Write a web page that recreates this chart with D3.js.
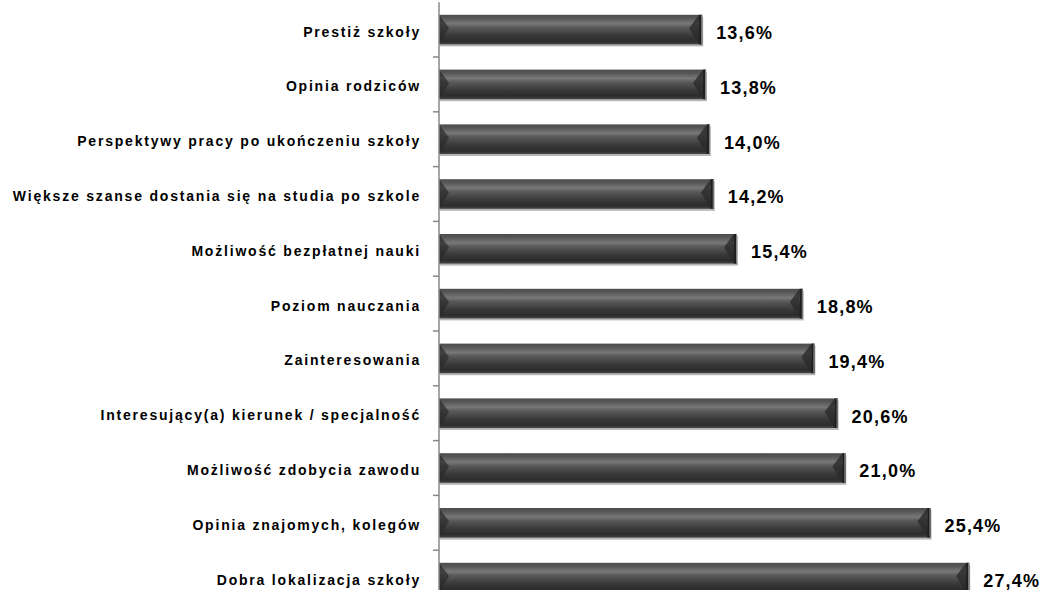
<!DOCTYPE html>
<html>
<head>
<meta charset="utf-8">
<script src="https://cdn.jsdelivr.net/npm/d3@7"></script>
<style>
  body { margin: 0; background: #fff; }
  svg { display: block; }
</style>
</head>
<body>
<div id="chart"></div>
<script>
var w = 1045;
var h = 590;

var categories = [
  "Prestiż szkoły",
  "Opinia rodziców",
  "Perspektywy pracy po ukończeniu szkoły",
  "Większe szanse dostania się na studia po szkole",
  "Możliwość bezpłatnej nauki",
  "Poziom nauczania",
  "Zainteresowania",
  "Interesujący(a) kierunek / specjalność",
  "Możliwość zdobycia zawodu",
  "Opinia znajomych, kolegów",
  "Dobra lokalizacja szkoły"
];
var values = [13.6, 13.8, 14.0, 14.2, 15.4, 18.8, 19.4, 20.6, 21.0, 25.4, 27.4];

var axisX = 439;

var x = d3.scaleLinear().domain([0, 10]).range([axisX, axisX + 193.5]);
var y = d3.scaleBand().domain(categories).range([2.2, 605]).paddingInner(0.46).paddingOuter(0.23);

var svg = d3.select("#chart").append("svg")
  .attr("width", w)
  .attr("height", h);

var defs = svg.append("defs");
var grad = defs.append("linearGradient")
  .attr("id", "barGrad")
  .attr("x1", 0).attr("y1", 0).attr("x2", 0).attr("y2", 1);
[[0, "#4c4c4c"], [0.12, "#575757"], [0.3, "#787878"], [0.42, "#5a5a5a"], [0.7, "#393939"], [0.9, "#2c2c2c"], [1, "#474747"]]
  .forEach(function (s) {
    grad.append("stop").attr("offset", s[0]).attr("stop-color", s[1]);
  });

var bars = svg.selectAll("g.bar")
  .data(values)
  .join("g")
  .attr("class", "bar");

// shadow
bars.append("rect")
  .attr("x", function (d) { return x(0) + 1; })
  .attr("y", function (d, i) { return y(categories[i]) + 2; })
  .attr("width", function (d) { return x(d) - x(0); })
  .attr("height", y.bandwidth())
  .style("fill", "#b5b5b5");

bars.append("rect")
  .attr("x", x(0))
  .attr("y", function (d, i) { return y(categories[i]); })
  .attr("width", function (d) { return x(d) - x(0); })
  .attr("height", y.bandwidth())
  .style("fill", "url(#barGrad)");

// right bevel
bars.append("path")
  .attr("d", function (d, i) {
    var x1 = x(d), y0 = y(categories[i]), b = y.bandwidth();
    return "M" + (x1 - 3) + "," + y0 + "L" + (x1 - 13) + "," + (y0 + b * 0.45) +
      "L" + (x1 - 3) + "," + (y0 + b) + "Z";
  })
  .style("fill", "#2a2a2a")
  .style("opacity", 0.8);
bars.append("rect")
  .attr("x", function (d) { return x(d) - 3; })
  .attr("y", function (d, i) { return y(categories[i]); })
  .attr("width", 3)
  .attr("height", y.bandwidth())
  .style("fill", "#1e1e1e");
bars.append("rect")
  .attr("x", function (d) { return x(d) - 1; })
  .attr("y", function (d, i) { return y(categories[i]); })
  .attr("width", 1)
  .attr("height", y.bandwidth())
  .style("fill", "#8a8a8a");

// left bevel
bars.append("path")
  .attr("d", function (d, i) {
    var x0 = x(0), y0 = y(categories[i]), b = y.bandwidth();
    return "M" + x0 + "," + y0 + "L" + (x0 + 10) + "," + (y0 + b * 0.45) +
      "L" + x0 + "," + (y0 + b) + "Z";
  })
  .style("fill", "#2a2a2a")
  .style("opacity", 0.7);

// value labels
bars.append("text")
  .attr("x", function (d) { return x(d) + 14; })
  .attr("y", function (d, i) { return y(categories[i]) + y.bandwidth() / 2 + 3; })
  .attr("dy", "0.35em")
  .style("font-family", "'Liberation Sans', Arial, sans-serif")
  .style("font-weight", "bold")
  .style("font-size", "18px")
  .style("letter-spacing", "1.2px")
  .style("fill", "#000")
  .text(function (d) { return d.toFixed(1).replace(".", ",") + "%"; });

// category axis
var axis = svg.append("g").attr("transform", "translate(" + axisX + ",0)");
axis.append("line")
  .attr("x1", 0).attr("x2", 0)
  .attr("y1", y.range()[0]).attr("y2", y.range()[1])
  .style("stroke", "#888").style("stroke-width", 1.5);

var step = y.step();
axis.selectAll("line.tick")
  .data(categories.slice(1))
  .join("line")
  .attr("class", "tick")
  .attr("x1", -6).attr("x2", 0)
  .attr("y1", function (d) { return y(d) - step * y.paddingInner() / 2; })
  .attr("y2", function (d) { return y(d) - step * y.paddingInner() / 2; })
  .style("stroke", "#888").style("stroke-width", 1.5);

axis.selectAll("text")
  .data(categories)
  .join("text")
  .attr("x", -18)
  .attr("y", function (d) { return y(d) + y.bandwidth() / 2 + 2; })
  .attr("dy", "0.35em")
  .attr("text-anchor", "end")
  .style("font-family", "'Liberation Sans', Arial, sans-serif")
  .style("font-weight", "bold")
  .style("font-size", "14px")
  .style("letter-spacing", "1.8px")
  .style("fill", "#000")
  .text(function (d) { return d; });
</script>
</body>
</html>
